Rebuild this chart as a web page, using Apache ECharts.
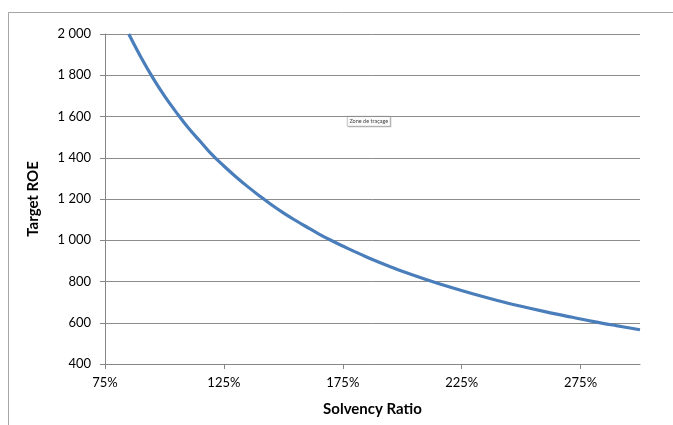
<!DOCTYPE html>
<html>
<head>
<meta charset="utf-8">
<script src="https://cdn.jsdelivr.net/npm/echarts@6/dist/echarts.min.js"></script>
<style>
html,body{margin:0;padding:0;background:#fff;}
#chart{width:673px;height:425px;}
</style>
</head>
<body>
<div id="chart"></div>
<script>
// Solvency ratio (%)
var solvency = [85, 90, 95, 100, 105, 110, 115, 120, 125, 130, 135, 140, 145, 150, 155, 160, 165, 170, 175, 180, 185, 190, 195, 200, 210, 220, 230, 240, 250, 260, 270, 280, 290, 300];
// Target ROE
var targetROE = [2000, 1890, 1790, 1700, 1620, 1545, 1480, 1415, 1360, 1308, 1260, 1215, 1172, 1133, 1097, 1063, 1030, 1000, 972, 945, 919, 895, 872, 850, 810, 773, 739, 708, 680, 654, 630, 607, 586, 566];
// Axis tick labels
var xTicks = [75, 125, 175, 225, 275];
var xTickLabels = ['75%', '125%', '175%', '225%', '275%'];
var yTicks = [400, 600, 800, 1000, 1200, 1400, 1600, 1800, 2000];
var yTickLabels = ['400', '600', '800', '1 000', '1 200', '1 400', '1 600', '1 800', '2 000'];

var points = solvency.map(function (s, i) { return [s, targetROE[i]]; });
var font = 'Lato, "Open Sans", sans-serif';

var chart = echarts.init(document.getElementById('chart'), null, {renderer: 'canvas'});
chart.setOption({
  animation: false,
  backgroundColor: '#ffffff',
  grid: {left: 105, right: 33, top: 34, bottom: 61, containLabel: false},
  xAxis: {
    type: 'value',
    min: 75,
    max: 300,
    name: 'Solvency Ratio',
    nameLocation: 'middle',
    nameGap: 38,
    nameTextStyle: {fontFamily: font, fontSize: 15, fontWeight: 'bold', color: '#000'},
    axisLine: {show: true, lineStyle: {color: '#868686', width: 1}},
    axisTick: {show: true, length: 5, customValues: xTicks, lineStyle: {color: '#868686'}},
    axisLabel: {
      customValues: xTicks,
      margin: 12,
      fontFamily: font, fontSize: 13, color: '#000',
      formatter: function (v) { var i = xTicks.indexOf(v); return i >= 0 ? xTickLabels[i] : ''; }
    },
    splitLine: {show: false}
  },
  yAxis: {
    type: 'value',
    min: 400,
    max: 2000,
    interval: 200,
    name: 'Target ROE',
    nameLocation: 'middle',
    nameGap: 64,
    nameRotate: 90,
    nameTextStyle: {fontFamily: font, fontSize: 15, fontWeight: 'bold', color: '#000'},
    axisLine: {show: true, lineStyle: {color: '#868686', width: 1}},
    axisTick: {show: true, length: 5, lineStyle: {color: '#868686'}},
    axisLabel: {
      margin: 14,
      fontFamily: font, fontSize: 13, color: '#000',
      formatter: function (v) { var i = yTicks.indexOf(v); return i >= 0 ? yTickLabels[i] : ''; }
    },
    splitLine: {show: true, lineStyle: {color: '#8c8c8c', width: 1}}
  },
  series: [{
    type: 'line',
    data: points,
    smooth: 0.4,
    showSymbol: false,
    clip: true,
    lineStyle: {color: '#4a7ebb', width: 3.2},
    itemStyle: {color: '#4a7ebb'}
  }],
  graphic: [
    {
      type: 'rect',
      silent: true,
      shape: {x: 8.5, y: 12.5, width: 700, height: 500},
      style: {fill: null, stroke: '#a6a6a6', lineWidth: 1}
    },
    {
      type: 'group',
      left: 347,
      top: 116,
      children: [
        {type: 'rect', shape: {x: 1, y: 1, width: 43, height: 10}, style: {fill: '#b8b8b8'}},
        {type: 'rect', shape: {x: 0, y: 0, width: 43, height: 10}, style: {fill: '#fbfbfb', stroke: '#9a9a9a', lineWidth: 0.6}},
        {type: 'text', x: 21.5, y: 5, style: {text: 'Zone de traçage', fontFamily: font, fontSize: 5.5, fill: '#444', align: 'center', verticalAlign: 'middle'}}
      ]
    }
  ]
});
</script>
</body>
</html>
